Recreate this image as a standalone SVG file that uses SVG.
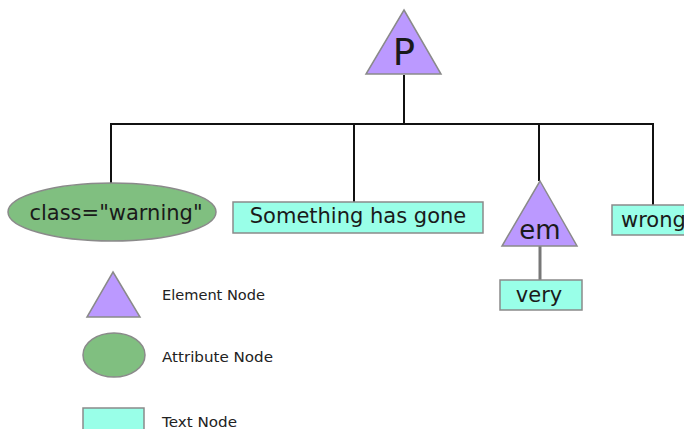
<svg xmlns="http://www.w3.org/2000/svg" width="684" height="429" viewBox="0 0 684 429">
<style>
.el{fill:#bb99ff;stroke:#8a8a8a;stroke-width:1.5}
.at{fill:#80bf80;stroke:#8a8a8a;stroke-width:1.5}
.tx{fill:#99ffe8;stroke:#8a8a8a;stroke-width:1.5}
.lbl{font-family:"DejaVu Sans",sans-serif;font-size:21px;fill:#1a1a1a}
.leg{font-family:"DejaVu Sans",sans-serif;font-size:14px;fill:#222}
.ln{stroke:#111;stroke-width:2;fill:none}
</style>
<rect width="684" height="429" fill="#fff"/>
<g id="connectors">
<path class="ln" d="M404 75V124M111 124H653M111 123V184M354 123V202M539 123V181M653 123V205"/>
<path d="M540 246V280" stroke="#777" stroke-width="3"/>
</g>
<g id="node-p">
<polygon class="el" points="404,10 441,74 366,74"/>
<text class="lbl" x="404" y="65" text-anchor="middle" style="font-size:37px">P</text>
</g>
<g id="node-class">
<ellipse class="at" cx="112" cy="212" rx="104" ry="29"/>
<text class="lbl" x="116" y="220" text-anchor="middle">class="warning"</text>
</g>
<g id="node-something">
<rect class="tx" x="233" y="202" width="250" height="31"/>
<text class="lbl" x="358" y="223" text-anchor="middle">Something has gone</text>
</g>
<g id="node-em">
<polygon class="el" points="540,181 577,246 502,246"/>
<text class="lbl" x="540" y="239" text-anchor="middle" style="font-size:26px">em</text>
</g>
<g id="node-very">
<rect class="tx" x="500" y="280" width="82" height="30"/>
<text class="lbl" x="539" y="302" text-anchor="middle">very</text>
</g>
<g id="node-wrong">
<rect class="tx" x="612" y="205" width="80" height="30"/>
<text class="lbl" x="621" y="227">wrong</text>
</g>
<g id="legend-element">
<polygon class="el" points="113,272 140,317 87,317"/>
<text class="leg" x="162" y="300" textLength="103" lengthAdjust="spacingAndGlyphs">Element Node</text>
</g>
<g id="legend-attribute">
<ellipse class="at" cx="114" cy="355" rx="31" ry="22"/>
<text class="leg" x="162" y="362" textLength="111" lengthAdjust="spacingAndGlyphs">Attribute Node</text>
</g>
<g id="legend-text">
<rect class="tx" x="83" y="408" width="61" height="30"/>
<text class="leg" x="162" y="427" textLength="75" lengthAdjust="spacingAndGlyphs">Text Node</text>
</g>
</svg>
